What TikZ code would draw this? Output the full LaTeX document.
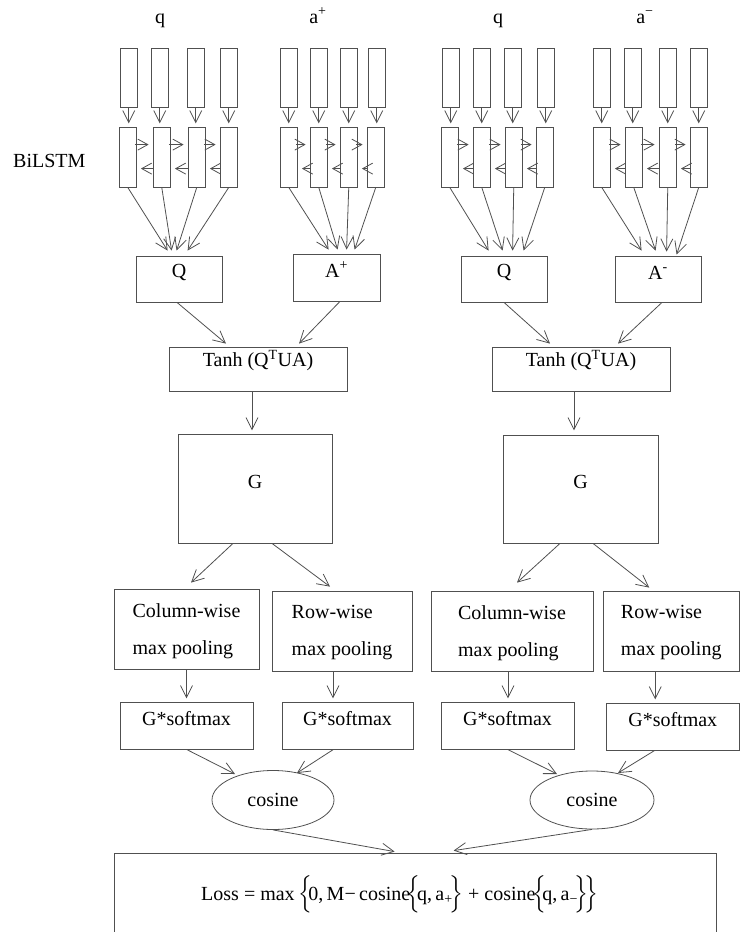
\documentclass[tikz,border=0pt]{standalone}
\usepackage{amsmath}
\usepackage{fontspec}
\setmainfont{Liberation Serif}
\usetikzlibrary{arrows.meta,calc,fit,shapes.geometric}
\newcommand\myfs{\fontsize{20}{24}\selectfont}
\definecolor{lc}{RGB}{80,80,80}
\begin{document}
\begin{tikzpicture}[x=1pt,y=-1pt,
  box/.style={draw=lc, line width=0.8pt, inner sep=0pt, font=\myfs},
  cellbox/.style={draw=lc, line width=0.8pt, inner sep=0pt, minimum width=17.5pt},
  arr/.style={draw=lc, line width=0.8pt, -{Straight Barb[length=12pt,width=12pt]}},
  harr/.style={draw=lc, line width=0.8pt, -{Straight Barb[length=10pt,width=11pt]}},
  lbl/.style={font=\myfs, inner sep=0pt},
  pool/.style={align=left, inner sep=0pt, font=\fontsize{20}{37}\selectfont}]
\useasboundingbox (0,0) rectangle (741,932);
\clip (0,0) rectangle (741,932);

% top labels
\node[lbl, anchor=base] (lq1) at (160,23) {q};
\node[lbl, anchor=base] (lap) at (318,23) {a\textsuperscript{+}};
\node[lbl, anchor=base] (lq2) at (498,23) {q};
\node[lbl, anchor=base] (lam) at (645,23) {a\textsuperscript{−}};
\node[lbl, anchor=base west] (bil) at (13,167) {BiLSTM};

% word cells and BiLSTM cells
\foreach \g/\tl/\bl in {1/{120,151,187,220}/{119,153,188,220},
                       2/{280,310,340,368}/{280,310,340,367},
                       3/{442,473,504,537}/{441,473,505,536},
                       4/{593,624,659,690}/{593,625,659,690}}{
  \foreach \x [count=\i] in \tl {
    \node[cellbox, minimum height=59pt] (t\g\i) at (\x+8.75,77.5) {};
  }
  \foreach \x [count=\i] in \bl {
    \node[cellbox, minimum height=60pt] (b\g\i) at (\x+8.75,157) {};
    \draw[arr] (t\g\i.south) -- ++(0,16);
  }
  \foreach \i/\j in {1/2,2/3,3/4}{
    \draw[harr] ($(b\g\i.north east)+(-2,18)$) -- ($(b\g\j.north west)+(-4,18)$);
    \draw[harr] ($(b\g\j.north west)+(1,42)$) -- ($(b\g\i.north east)+(4,42)$);
  }
}

% Q / A boxes
\node[box, fit={(136,256) (222,302)}] (Q1) {Q};
\node[box, fit={(293,254) (380,301)}] (Ap) {A\textsuperscript{+}};
\node[box, fit={(461,256) (547,302)}] (Q2) {Q};
\node[box, fit={(615,256) (701,302)}] (Am) {A\textsuperscript{-}};

\foreach \i/\o in {1/32,2/36,3/41,4/52}{
  \draw[arr] (b1\i.south) -- ([xshift=\o pt, yshift=5pt]Q1.north west);}
\foreach \i/\o in {1/36,2/45,3/54,4/62}{
  \draw[arr] (b2\i.south) -- ([xshift=\o pt, yshift=4pt]Ap.north west);}
\foreach \i/\o in {1/28,2/42,3/52,4/63}{
  \draw[arr] (b3\i.south) -- ([xshift=\o pt, yshift=5pt]Q2.north west);}
\foreach \i/\o/\s in {1/27/5,2/41/5,3/52/4,4/62/1}{
  \draw[arr] (b4\i.south) -- ([xshift=\o pt, yshift=\s pt]Am.north west);}

% Tanh boxes
\node[box, fit={(169,347) (347,391)}] (T1) {Tanh (Q\textsuperscript{T}UA)};
\node[box, fit={(492,347) (670,391)}] (T2) {Tanh (Q\textsuperscript{T}UA)};
\draw[arr] ([xshift=-2pt]Q1.south) -- ([xshift=-32pt, yshift=3pt]T1.north);
\draw[arr] ([xshift=3.5pt]Ap.south) -- ([xshift=41pt, yshift=3pt]T1.north);
\draw[arr] (Q2.south) -- ([xshift=-31pt, yshift=3pt]T2.north);
\draw[arr] ([xshift=4pt]Am.south) -- ([xshift=37pt, yshift=3pt]T2.north);

% G boxes
\node[box, fit={(178,434) (332,543)}] (G1) {G};
\node[box, fit={(503,435) (658,543)}] (G2) {G};
\draw[arr] ($(T1.south)+(-6,0)$) -- ($(T1.south)+(-6,39)$);
\draw[arr] ($(T2.south)+(-7,0)$) -- ($(T2.south)+(-7,39)$);

% pooling boxes
\node[box, fit={(114,589) (259,669)}] (C1) {};
\node[box, fit={(272,591) (412,671)}] (R1) {};
\node[box, fit={(431,591) (593,671)}] (C2) {};
\node[box, fit={(603,591) (739.5,671)}] (R2) {};
\node[pool] (C1t) at ($(C1.center)+(0,2)$) {Column-wise\\max pooling};
\node[pool] (R1t) at ($(R1.center)+(0,2)$) {Row-wise\\max pooling};
\node[pool] (C2t) at ($(C2.center)+(0,2)$) {Column-wise\\max pooling};
\node[pool] (R2t) at ($(R2.center)+(0,2)$) {Row-wise\\max pooling};
\draw[arr] ([xshift=-22pt]G1.south) -- ([xshift=4.5pt, yshift=6pt]C1.north);
\draw[arr] ([xshift=17pt]G1.south) -- ([xshift=-12pt, yshift=4pt]R1.north);
\draw[arr] ([xshift=-20.5pt]G2.south) -- ([xshift=5pt, yshift=8pt]C2.north);
\draw[arr] ([xshift=12.5pt]G2.south) -- ([xshift=-22pt, yshift=3pt]R2.north);

% softmax boxes
\node[box, fit={(120,702) (253,749)}] (S1) {G*softmax};
\node[box, fit={(282,702) (413,749)}] (S2) {G*softmax};
\node[box, fit={(441,702) (574,749)}] (S3) {G*softmax};
\node[box, fit={(606,703) (739.5,750)}] (S4) {G*softmax};
\draw[arr] (C1.south) -- ++(0,29);
\draw[arr] ($(R1.south)+(-9,0)$) -- ++(0,27);
\draw[arr] ($(C2.south)+(-4,0)$) -- ++(0,27);
\draw[arr] ($(R2.south)+(-16,0)$) -- ++(0,28);

% cosine ellipses
\node[box, ellipse, minimum width=122pt, minimum height=59pt] (E1) at (273,800) {cosine};
\node[box, ellipse, minimum width=124pt, minimum height=58pt] (E2) at (592,800) {cosine};
\draw[arr] (S1.south) -- ($(E1)+(-38,-26)$);
\draw[arr] ($(S2.south)+(-14,0)$) -- ($(E1)+(24,-27)$);
\draw[arr] (S3.south) -- ($(E2)+(-35,-26)$);
\draw[arr] ($(S4.south)+(-18,0)$) -- ($(E2)+(26,-27)$);

% loss
\node[box, fit={(114,853) (716,970)}] (L) {};
\node[lbl, anchor=base] (LT) at (400,900) {Loss = max\,$\Bigl\{\!$0,\,M−\,cosine$\!\Bigl\{\!$q,\,a\textsubscript{+}$\!\Bigr\}$ + cosine$\!\Bigl\{\!$q,\,a\textsubscript{−}$\!\Bigr\}\!\Bigr\}$};
\draw[arr] (E1.south) -- ([xshift=281pt, yshift=1pt]L.north west);
\draw[arr] (E2.south) -- ([xshift=340pt, yshift=2pt]L.north west);
\end{tikzpicture}
\end{document}
